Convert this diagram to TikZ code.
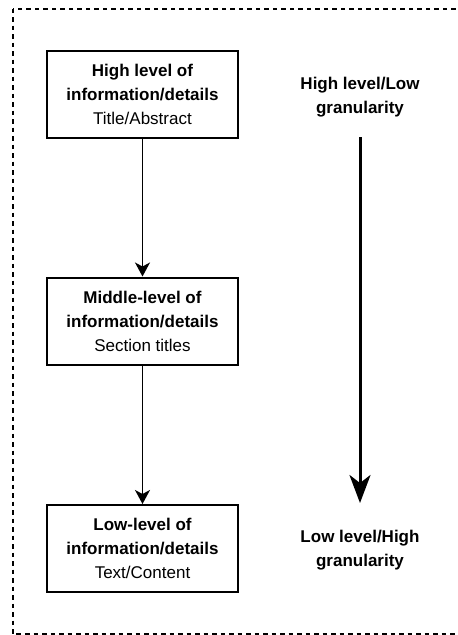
\documentclass[tikz,border=0pt]{standalone}
\usepackage{fontspec}
\setmainfont{Liberation Sans}
\usetikzlibrary{arrows.meta}
\begin{document}
\begin{tikzpicture}[x=1pt,y=-1pt,
  box/.style={draw, line width=2pt, minimum width=191pt, minimum height=87pt, inner sep=0pt, align=center, font=\fontsize{17}{24}\selectfont},
  lab/.style={align=center, font=\bfseries\fontsize{17}{24.5}\selectfont},
  conn/.style={line width=1.8pt, -{Stealth[length=14pt,width=15pt,inset=4pt]}},
  bigarrow/.style={line width=3pt, -{Stealth[length=28pt,width=21pt,inset=8pt]}},
  frame/.style={dash pattern=on 4.5pt off 4pt, line width=2pt}]
\useasboundingbox (0,0) rectangle (458,635);
\begin{scope}
\clip (0,0) rectangle (458,635);
\draw[frame] (13,8.5) rectangle (480,634);
\end{scope}
\node[box] (b1) at (142.5,94.5) {\textbf{High level of}\\\textbf{information/details}\\Title/Abstract};
\node[box] (b2) at (142.5,321) {\textbf{Middle-level of}\\\textbf{information/details}\\Section titles};
\node[box] (b3) at (142.5,548.5) {\textbf{Low-level of}\\\textbf{information/details}\\Text/Content};
\draw[conn] (b1) -- (b2);
\draw[conn] (b2) -- (b3);
\node[lab] (ltop) at (360,97) {High level/Low\\granularity};
\node[lab] (lbot) at (360,550) {Low level/High\\granularity};
\coordinate (bs) at (360,137);
\coordinate (be) at (360,503);
\draw[bigarrow] (bs) -- (be);
\end{tikzpicture}
\end{document}
